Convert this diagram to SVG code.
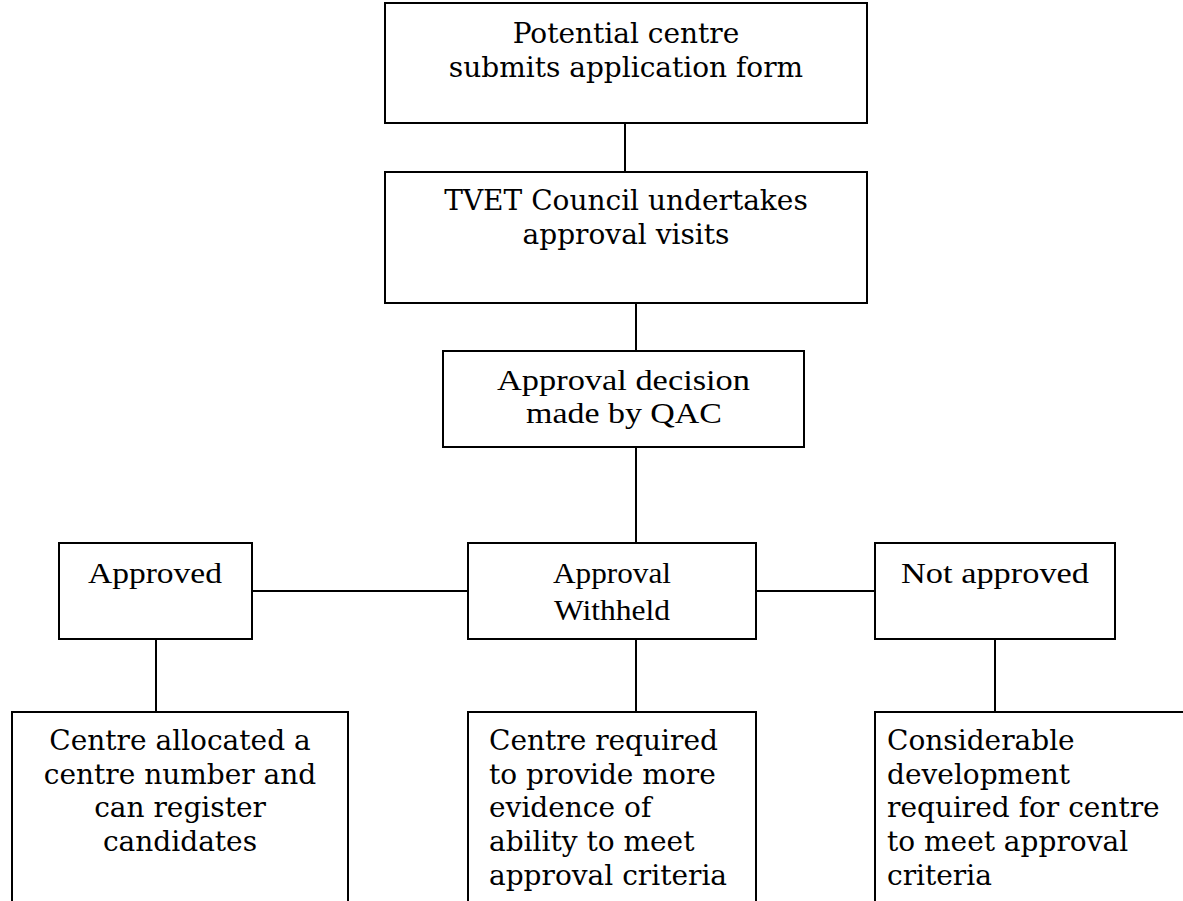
<svg xmlns="http://www.w3.org/2000/svg" width="1183" height="901" viewBox="0 0 1183 901">
<style>
rect{fill:#fff;stroke:#000;stroke-width:2}
line{stroke:#000;stroke-width:2}
.b{font-family:"DejaVu Serif","Liberation Serif",serif;font-size:28px;fill:#000}
.t{font-family:"Liberation Serif",serif;font-size:30px;fill:#000}
.c{text-anchor:middle}
</style>
<rect x="0" y="0" width="1183" height="901" style="stroke:none"/>
<g id="connectors">
<line x1="625" y1="123" x2="625" y2="172"/>
<line x1="636" y1="303" x2="636" y2="351"/>
<line x1="636" y1="447" x2="636" y2="543"/>
<line x1="252" y1="591" x2="468" y2="591"/>
<line x1="756" y1="591" x2="875" y2="591"/>
<line x1="156" y1="639" x2="156" y2="712"/>
<line x1="636" y1="639" x2="636" y2="712"/>
<line x1="995" y1="639" x2="995" y2="712"/>
</g>
<g id="n1"><rect x="385" y="3" width="482" height="120"/>
<text class="b c" x="626" y="43">Potential centre</text>
<text class="b c" x="626" y="77">submits application form</text></g>
<g id="n2"><rect x="385" y="172" width="482" height="131"/>
<text class="b c" x="626" y="210">TVET Council undertakes</text>
<text class="b c" x="626" y="244">approval visits</text></g>
<g id="n3"><rect x="443" y="351" width="361" height="96"/>
<text class="t c" x="623.5" y="390" textLength="253" lengthAdjust="spacingAndGlyphs">Approval decision</text>
<text class="t c" x="624" y="423" textLength="196" lengthAdjust="spacingAndGlyphs">made by QAC</text></g>
<g id="n4"><rect x="59" y="543" width="193" height="96"/>
<text class="t c" x="155" y="583" textLength="134" lengthAdjust="spacingAndGlyphs">Approved</text></g>
<g id="n5"><rect x="468" y="543" width="288" height="96"/>
<text class="t c" x="612" y="583" textLength="118" lengthAdjust="spacingAndGlyphs">Approval</text>
<text class="t c" x="612" y="620" textLength="116" lengthAdjust="spacingAndGlyphs">Withheld</text></g>
<g id="n6"><rect x="875" y="543" width="240" height="96"/>
<text class="t c" x="995" y="583" textLength="188" lengthAdjust="spacingAndGlyphs">Not approved</text></g>
<g id="n7"><rect x="12" y="712" width="336" height="200"/>
<text class="b c" x="180" y="750">Centre allocated a</text>
<text class="b c" x="180" y="784">centre number and</text>
<text class="b c" x="180" y="817">can register</text>
<text class="b c" x="180" y="851">candidates</text></g>
<g id="n8"><rect x="468" y="712" width="288" height="200"/>
<text class="b" x="489" y="750">Centre required</text>
<text class="b" x="489" y="784">to provide more</text>
<text class="b" x="489" y="817">evidence of</text>
<text class="b" x="489" y="851">ability to meet</text>
<text class="b" x="489" y="885">approval criteria</text></g>
<g id="n9"><rect x="875" y="712" width="320" height="200"/>
<text class="b" x="887" y="750">Considerable</text>
<text class="b" x="887" y="784">development</text>
<text class="b" x="887" y="817">required for centre</text>
<text class="b" x="887" y="851">to meet approval</text>
<text class="b" x="887" y="885">criteria</text></g>
</svg>
